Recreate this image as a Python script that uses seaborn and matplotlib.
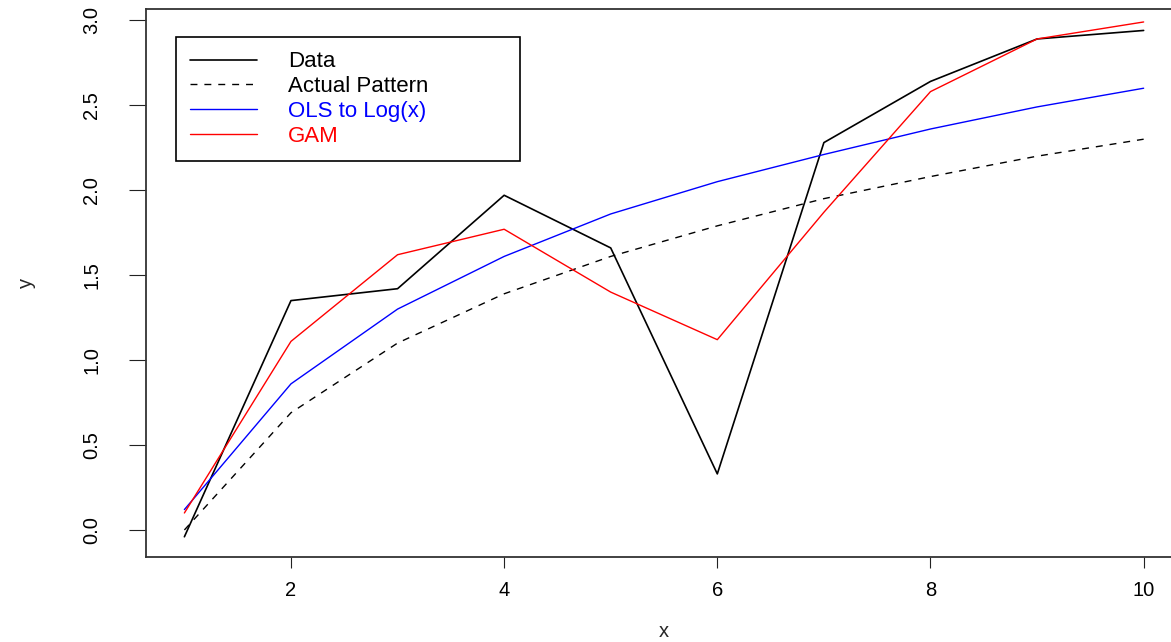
import matplotlib
matplotlib.use("Agg")
import matplotlib.pyplot as plt
import seaborn as sns
import numpy as np

# Observed data and fitted curves
x_vals = [1, 2, 3, 4, 5, 6, 7, 8, 9, 10]
data_y = [-0.04, 1.35, 1.42, 1.97, 1.66, 0.33, 2.28, 2.64, 2.89, 2.94]
actual_y = [0.00, 0.69, 1.10, 1.39, 1.61, 1.79, 1.95, 2.08, 2.20, 2.30]
ols_y = [0.12, 0.86, 1.30, 1.61, 1.86, 2.05, 2.21, 2.36, 2.49, 2.60]
gam_y = [0.10, 1.11, 1.62, 1.77, 1.40, 1.12, 1.87, 2.58, 2.89, 2.99]

series_labels = ["Data", "Actual Pattern", "OLS to Log(x)", "GAM"]
series_colors = ["black", "black", "#0000FF", "#FF0000"]
x_ticks = [2, 4, 6, 8, 10]
y_ticks = [0.0, 0.5, 1.0, 1.5, 2.0, 2.5, 3.0]

sns.set_style("ticks")
plt.rcParams["font.family"] = ["Liberation Sans", "DejaVu Sans"]

fig = plt.figure(figsize=(11.71, 6.42), dpi=100)
ax = fig.add_axes([0.1247, 0.1319, 0.8847, 0.854])

sns.lineplot(x=x_vals, y=data_y, ax=ax, color=series_colors[0], lw=1.2,
             label=series_labels[0])
sns.lineplot(x=x_vals, y=actual_y, ax=ax, color=series_colors[1], lw=1.0,
             linestyle=(0, (5, 5)), label=series_labels[1])
sns.lineplot(x=x_vals, y=ols_y, ax=ax, color=series_colors[2], lw=1.0,
             label=series_labels[2])
sns.lineplot(x=x_vals, y=gam_y, ax=ax, color=series_colors[3], lw=1.0,
             label=series_labels[3])

ax.set_xlim(0.64, 10.36)
ax.set_ylim(-0.161, 3.066)
ax.set_xticks(x_ticks)
ax.set_xticklabels([str(t) for t in x_ticks])
ax.set_yticks(y_ticks)
ax.set_yticklabels([f"{t:.1f}" for t in y_ticks])

for side in ["top", "right", "left", "bottom"]:
    ax.spines[side].set_visible(True)
    ax.spines[side].set_color("#333333")
    ax.spines[side].set_linewidth(1.3)

ax.tick_params(axis="x", length=7.7, width=0.8, color="#222222", pad=9.5,
               labelsize=14.5, labelcolor="black")
ax.tick_params(axis="y", length=12.3, width=0.8, color="#222222", pad=20,
               labelsize=14.5, labelcolor="black", labelrotation=90)
for lab in ax.get_yticklabels():
    lab.set_va("center")

ax.set_xlabel("x", fontsize=14.5)
ax.set_ylabel("y", fontsize=14.5)
ax.xaxis.set_label_coords(0.5, -0.1185)
ax.yaxis.set_label_coords(-0.106, 0.5)

leg = ax.legend(loc="upper left",
                bbox_to_anchor=(176 / 1171, 1 - 37 / 642, 344 / 1171, 0),
                bbox_transform=fig.transFigure, mode="expand",
                fontsize=16, frameon=True, fancybox=False, framealpha=1,
                borderpad=0.65, labelspacing=0.17, handlelength=3.0,
                handletextpad=1.4, borderaxespad=0)
leg.get_frame().set_edgecolor("black")
leg.get_frame().set_linewidth(1.2)
for txt, col in zip(leg.get_texts(), series_colors):
    txt.set_color(col)

fig.savefig("out.png", dpi=100)
